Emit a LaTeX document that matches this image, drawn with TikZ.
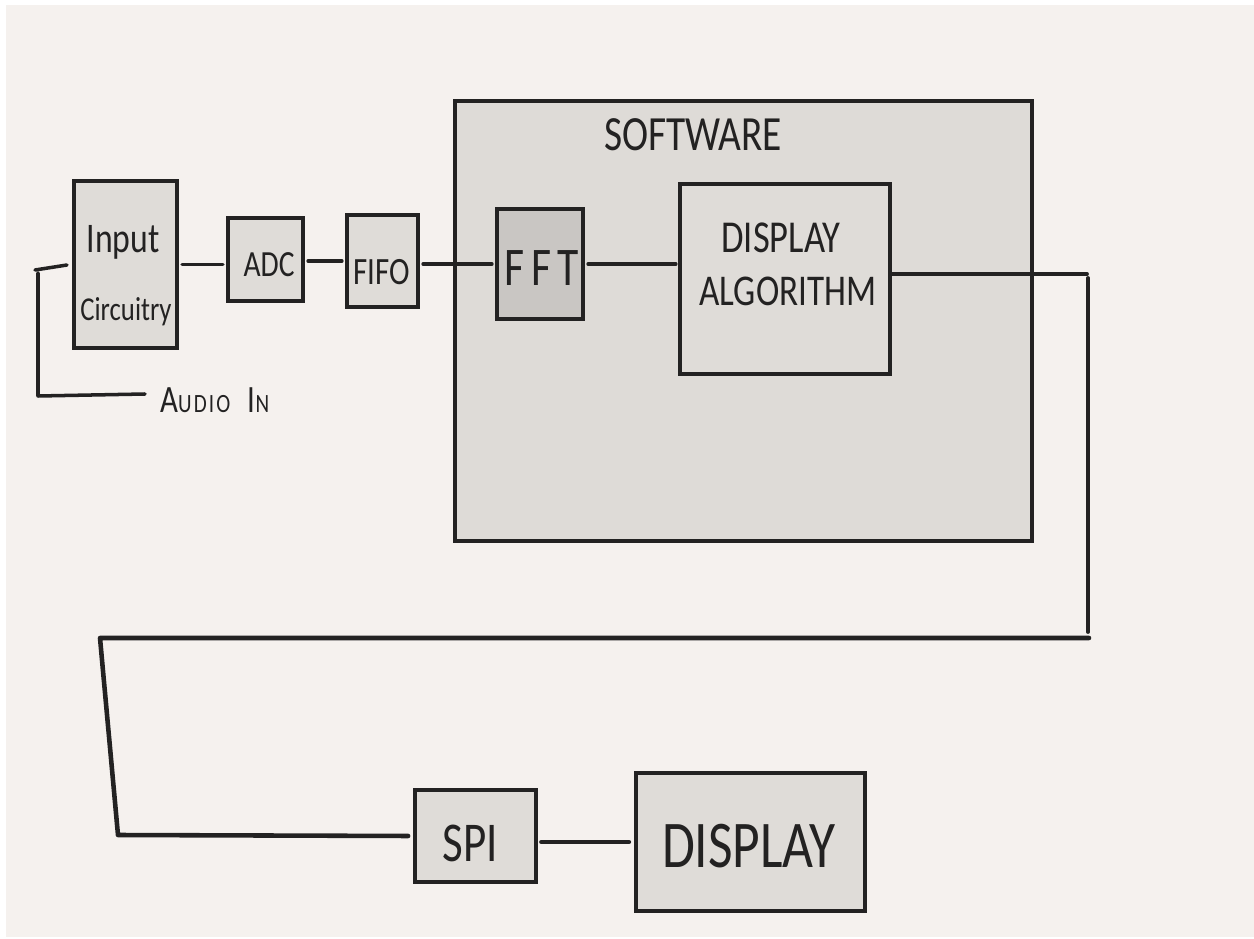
\documentclass[tikz,border=0pt]{standalone}
\usepackage{fontspec}
\setmainfont{Carlito}[FakeStretch=0.8]
\newcommand\hfs[1]{\fontsize{#1}{#1}\selectfont}
\definecolor{bgc}{HTML}{F5F1EE}
\definecolor{boxc}{HTML}{DFDCD8}
\definecolor{swc}{HTML}{DEDBD7}
\definecolor{fftc}{HTML}{C9C6C3}
\definecolor{ink}{HTML}{232222}
\begin{document}
\begin{tikzpicture}[x=0.02cm,y=-0.02cm,
  box/.style={draw=ink, fill=boxc, line width=1.8pt, inner sep=0pt},
  lbl/.style={text=ink, inner sep=0pt},
  link/.style={draw=ink, line width=2pt, line cap=round},
  thicklink/.style={draw=ink, line width=2.6pt, line cap=round, line join=round}]
% canvas
\useasboundingbox (0,0) rectangle (1254,939);
\fill[white] (0,0) rectangle (1254,939);
\fill[bgc] (6,5) rectangle (1254,937);

% software container
\node[box, fill=swc, line width=2.6pt, minimum width=11.54cm, minimum height=8.8cm] (sw) at (743.5,321) {};
\node[lbl, font=\hfs{28}] (swT) at (693,135) {SOFTWARE};

% blocks
\node[box, minimum width=2.06cm, minimum height=3.34cm] (inp) at (125.5,264.5) {};
\node[lbl, font=\hfs{24}] (inpT) at (123,242) {Input};
\node[lbl, font=\hfs{19}] (inpT2) at (126,312) {Circuitry};

\node[box, minimum width=1.5cm, minimum height=1.66cm] (adc) at (265.5,259.5) {};
\node[lbl, font=\hfs{21}] (adcT) at (269,265) {ADC};

\node[box, minimum width=1.42cm, minimum height=1.84cm] (fifo) at (382.5,261) {};
\node[lbl, font=\hfs{22}] (fifoT) at (382,272) {FIFO};

\node[box, fill=fftc, minimum width=1.72cm, minimum height=2.2cm] (fft) at (540,264) {};
\node[lbl, font=\hfs{31}\addfontfeature{LetterSpace=12}] (fftT) at (542,268) {FFT};

\node[box, minimum width=4.2cm, minimum height=3.8cm] (alg) at (785,279) {};
\node[lbl, font=\hfs{26}] (algT1) at (781,238) {DISPLAY};
\node[lbl, font=\hfs{25}] (algT2) at (788,291) {ALGORITHM};

\node[box, minimum width=2.42cm, minimum height=1.84cm] (spi) at (475.5,836) {};
\node[lbl, font=\hfs{32}] (spiT) at (470,843) {SPI};

\node[box, minimum width=4.58cm, minimum height=2.76cm] (disp) at (750.5,842) {};
\node[lbl, font=\hfs{38}] (dispT) at (749,846) {DISPLAY};

% audio input
\coordinate (a1) at (35,270);
\coordinate (a2) at (67,265);
\coordinate (a3) at (38,273);
\coordinate (a4) at (38,396);
\coordinate (a5) at (145,394);
\draw[link] (a1) -- (a2);
\draw[link, line join=round] (a3) -- (a4) -- (a5);
\node[lbl, anchor=west, font=\hfs{15}\addfontfeature{LetterSpace=8}] (audio) at (160,400) {{\hfs{22}A}UDIO\hspace{10pt}{\hfs{22}I}N};

% signal chain
\draw[link, shorten <=2pt, shorten >=2pt] (inp.east) -- (inp.east -| adc.west);
\draw[link, shorten <=2pt, shorten >=2pt] (fifo.west) -- (fifo.west -| adc.east);
\draw[link, shorten <=2pt, shorten >=2pt] (fft.west) -- (fft.west -| fifo.east);
\draw[link, shorten <=2pt, shorten >=1.5pt] (fft.east) -- (fft.east -| alg.west);

% feedback to display
\coordinate (r1) at (1087,274);
\coordinate (r2) at (1088,632);
\coordinate (r3) at (1089,638);
\coordinate (l1) at (100,638);
\coordinate (l2) at (118,835);
\draw[link, line width=2.2pt] (alg.east |- r1) -- (r1);
\draw[link, line width=2.2pt] (r1) ++(1,4) -- (r2);
\draw[thicklink, shorten >=3pt] (r3) -- (l1) -- (l2) -- (spi.west);
\draw[link, line width=2.2pt, shorten <=3pt, shorten >=2pt] (disp.west) -- (disp.west -| spi.east);
\end{tikzpicture}
\end{document}
